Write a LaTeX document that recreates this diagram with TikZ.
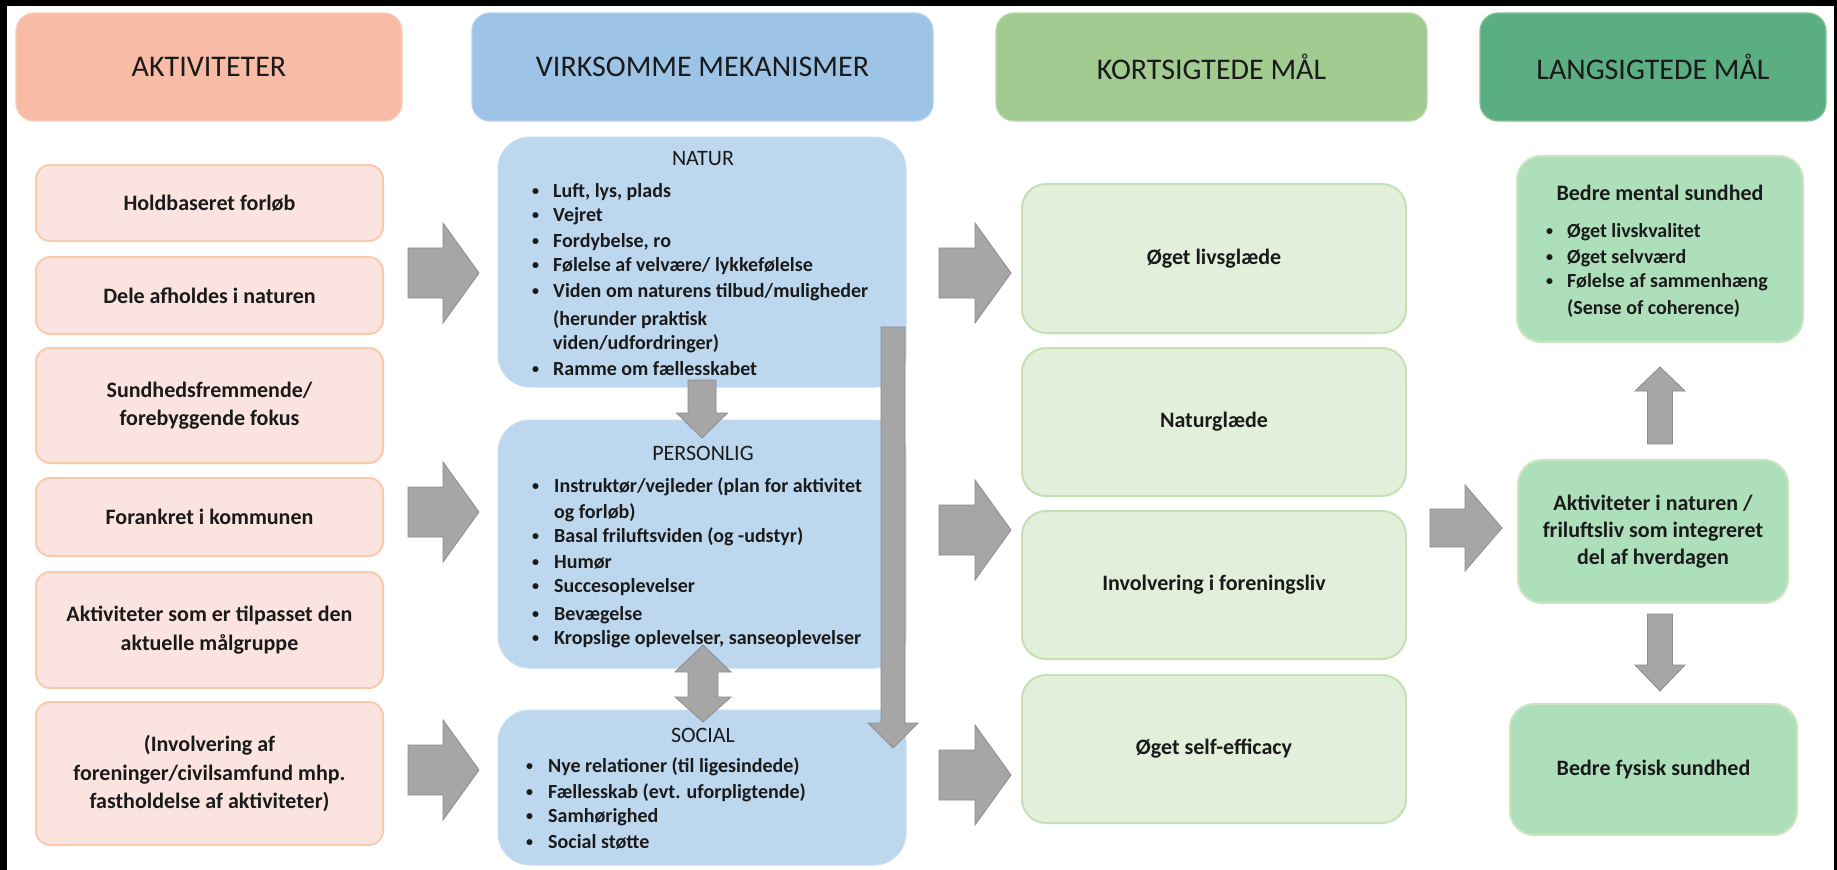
\documentclass[tikz,border=0pt]{standalone}
\usepackage{fontspec}
\setmainfont{Carlito}
\usetikzlibrary{calc}

\definecolor{txt}{HTML}{1A1A1A}
\definecolor{hA}{HTML}{F7BBA6}\definecolor{hAd}{HTML}{F9CDB8}
\definecolor{hB}{HTML}{9DC3E6}\definecolor{hBd}{HTML}{B3D1EC}
\definecolor{hC}{HTML}{A2CB91}\definecolor{hCd}{HTML}{B8D8A8}
\definecolor{hD}{HTML}{5BAE82}\definecolor{hDd}{HTML}{86C49C}
\definecolor{aF}{HTML}{FBE4DF}\definecolor{aD}{HTML}{F8CBAD}
\definecolor{mF}{HTML}{BDD7EE}\definecolor{mD}{HTML}{C8DEF1}
\definecolor{kF}{HTML}{E2EFDA}\definecolor{kD}{HTML}{C5E0B4}
\definecolor{lF}{HTML}{AEDFBB}\definecolor{lD}{HTML}{CCE5C0}
\definecolor{arF}{HTML}{A6A6A6}\definecolor{arD}{HTML}{8C8C8C}

\newcommand{\blockR}[6]{\filldraw[fatarrow] (#1,{#4-#5}) -- (#2,{#4-#5}) -- (#2,{#4-#6}) -- (#3,#4) -- (#2,{#4+#6}) -- (#2,{#4+#5}) -- (#1,{#4+#5}) -- cycle;}
\newcommand{\blockV}[6]{\filldraw[fatarrow] ({#4-#5},#1) -- ({#4+#5},#1) -- ({#4+#5},#2) -- ({#4+#6},#2) -- (#4,#3) -- ({#4-#6},#2) -- ({#4-#5},#2) -- cycle;}

\tikzset{
  hdr/.style={line width=1.2pt, rounded corners=18pt, minimum height=108pt, inner sep=0pt,
    font=\fontsize{30}{36}\selectfont, text=txt},
  act/.style={fill=aF, draw=aD, line width=2pt, rounded corners=14pt, minimum width=347pt,
    inner sep=0pt, align=center, font=\bfseries\fontsize{22}{28.5}\selectfont, text=txt},
  mech/.style={fill=mF, draw=mD, line width=1pt, rounded corners=32pt, minimum width=408pt, inner sep=0pt},
  kbox/.style={fill=kF, draw=kD, line width=2pt, rounded corners=24pt, minimum width=384pt,
    minimum height=148pt, inner sep=0pt, align=center, font=\bfseries\fontsize{22}{28}\selectfont, text=txt},
  lbox/.style={fill=lF, draw=lD, line width=2pt, rounded corners=24pt, inner sep=0pt,
    align=center, font=\bfseries\fontsize{22}{27}\selectfont, text=txt},
  ttl/.style={anchor=base, inner sep=0pt, font=\fontsize{22}{26}\selectfont, text=txt},
  btxt/.style={anchor=base west, inner sep=0pt, font=\bfseries\fontsize{20}{25}\selectfont, text=txt},
  bdot/.style={anchor=base west, inner sep=0pt, font=\bfseries\fontsize{14}{16}\selectfont, text=txt},
  fatarrow/.style={fill=arF, draw=arD, line width=0.8pt, line join=miter}
}

\begin{document}
\begin{tikzpicture}[x=1pt, y=-1pt]
\useasboundingbox (0,0) rectangle (1837,870);
\fill[white] (0,0) rectangle (1837,870);
\fill[black] (0,0) rectangle (1837,6);
\fill[black] (0,0) rectangle (7,870);
\fill[black] (1834,0) rectangle (1837,870);

% headers
\node[hdr, fill=hA, draw=hAd, minimum width=386pt] (h1) at (209,67) {AKTIVITETER};
\node[hdr, fill=hB, draw=hBd, minimum width=461pt] (h2) at (702.5,67) {VIRKSOMME MEKANISMER};
\node[hdr, fill=hC, draw=hCd, minimum width=431pt] (h3) at (1211.5,67) {KORTSIGTEDE MÅL};
\node[hdr, fill=hD, draw=hDd, minimum width=346pt] (h4) at (1653,67) {LANGSIGTEDE MÅL};

% activities
\node[act, minimum height=76pt] (a1) at (209.5,203) {Holdbaseret forløb};
\node[act, minimum height=77pt] (a2) at (209.5,295.5) {Dele afholdes i naturen};
\node[act, minimum height=115pt] (a3) at (209.5,405.5) {Sundhedsfremmende/\\forebyggende fokus};
\node[act, minimum height=78pt] (a4) at (209.5,517) {Forankret i kommunen};
\node[act, minimum height=116pt] (a5) at (209.5,630) {Aktiviteter som er tilpasset den\\aktuelle målgruppe};
\node[act, minimum height=143pt] (a6) at (209.5,773.5) {(Involvering af\\foreninger/civilsamfund mhp.\\fastholdelse af aktiviteter)};

% mechanisms
\node[mech, minimum height=250pt] (m1) at (702,262) {};
\node[mech, minimum height=248pt] (m2) at (702,544) {};
\node[mech, minimum height=155pt] (m3) at (702,787.5) {};

\node[ttl] (m1t) at (703,165) {NATUR};
\foreach \yA/\bA/\sA [count=\i] in {191/1/{Luft, lys, plads}, 215/1/{Vejret}, 241/1/{Fordybelse, ro},
  265/1/{Følelse af velvære/ lykkefølelse}, 291/1/{Viden om naturens tilbud/muligheder},
  319/0/{(herunder praktisk}, 343/0/{viden/udfordringer)}, 369/1/{Ramme om fællesskabet}}{
  \node[btxt] (nat\i) at (553,\yA+6.5) {\sA};
  \ifnum\bA=1 \node[bdot] (natb\i) at (532,\yA+4.5) {•};\fi
}

\node[ttl] (m2t) at (703,460) {PERSONLIG};
\foreach \yA/\bA/\sA [count=\i] in {486/1/{Instruktør/vejleder (plan for aktivitet}, 512/0/{og forløb)},
  536/1/{Basal friluftsviden (og -udstyr)}, 562/1/{Humør}, 586/1/{Succesoplevelser},
  614/1/{Bevægelse}, 638/1/{Kropslige oplevelser, sanseoplevelser}}{
  \node[btxt] (per\i) at (554,\yA+6.5) {\sA};
  \ifnum\bA=1 \node[bdot] (perb\i) at (532,\yA+4.5) {•};\fi
}

\node[ttl] (m3t) at (703,742) {SOCIAL};
\foreach \yA/\sA [count=\i] in {766/{Nye relationer (til ligesindede)}, 792/{Fællesskab (evt. uforpligtende)},
  816/{Samhørighed}, 842/{Social støtte}}{
  \node[btxt] (soc\i) at (548,\yA+6.5) {\sA};
  \node[bdot] (socb\i) at (526,\yA+4.5) {•};
}

% short term
\node[kbox, minimum height=149pt] (k1) at (1214,258.5) {Øget livsglæde};
\node[kbox] (k2) at (1214,422) {Naturglæde};
\node[kbox] (k3) at (1214,585) {Involvering i foreningsliv};
\node[kbox] (k4) at (1214,749) {Øget self-efficacy};

% long term
\node[lbox, minimum width=286pt, minimum height=186pt] (l1) at (1660,249) {};
\node[anchor=base, inner sep=0pt, font=\bfseries\fontsize{22}{26}\selectfont, text=txt] (l1t) at (1660,200) {Bedre mental sundhed};
\foreach \yA/\bA/\sA [count=\i] in {231/1/{Øget livskvalitet}, 257/1/{Øget selvværd},
  281/1/{Følelse af sammenhæng}, 308/0/{(Sense of coherence)}}{
  \node[btxt] (lt\i) at (1567,\yA+6.5) {\sA};
  \ifnum\bA=1 \node[bdot] (ltb\i) at (1546,\yA+4.5) {•};\fi
}
\node[lbox, minimum width=270pt, minimum height=143pt] (l2) at (1653,531.5) {Aktiviteter i naturen /\\friluftsliv som integreret\\del af hverdagen};
\node[lbox, minimum width=287pt, minimum height=131pt] (l3) at (1653.5,769.5) {Bedre fysisk sundhed};

% block arrows
\blockR{408}{443}{479}{273}{25}{50}
\blockR{408}{443}{479}{512}{25}{50}
\blockR{408}{443}{479}{770}{25}{50}
\blockR{939}{975}{1011}{273}{25}{50}
\blockR{939}{975}{1011}{530}{25}{50}
\blockR{939}{975}{1011}{775}{25}{50}
\blockR{1430}{1465}{1502}{528}{19}{43}
\blockV{380}{413}{438}{702}{14}{25.5}
\blockV{327}{723}{748}{893}{12}{25}
\blockV{444}{391}{367}{1660}{12.5}{25}
\blockV{614}{665}{691}{1660}{12.5}{25}
\filldraw[fatarrow] (703,645) -- (731,672) -- (718,672) -- (718,697) -- (731,697) -- (703,722)
  -- (675,697) -- (688,697) -- (688,672) -- (675,672) -- cycle;
\end{tikzpicture}
\end{document}
